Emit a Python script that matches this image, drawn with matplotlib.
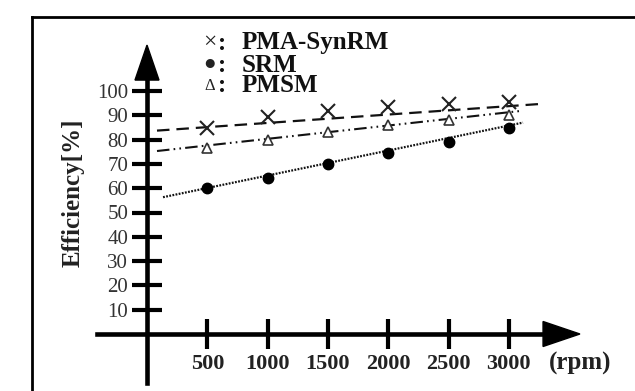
import numpy as np
from matplotlib import pyplot as plt
from matplotlib.lines import Line2D
from matplotlib.patches import Polygon

plt.rcParams.update({'font.family': ['Liberation Serif', 'DejaVu Serif'],
                     'lines.scale_dashes': False})

"""
Data read off the picture
"""
rpm = [500, 1000, 1500, 2000, 2500, 3000]
pma_synrm = [84.6, 89.4, 91.9, 93.5, 94.6, 95.6]
srm = [60.0, 64.1, 70.0, 74.4, 79.1, 84.6]
pmsm = [76.4, 79.8, 83.3, 86.0, 88.1, 90.1]

# trend lines (end points)
pma_fit_rpm = [83, 3242]
pma_fit = [83.7, 94.6]
pmsm_fit_rpm = [83, 3118]
pmsm_fit = [75.3, 91.9]
srm_fit_rpm = [133, 3118]
srm_fit = [56.3, 87.0]

y_ticks = [10, 20, 30, 40, 50, 60, 70, 80, 90, 100]
x_ticks = rpm
x_labels = [str(v) for v in rpm]

"""
Plotting
"""
W, H = 635, 391
fig = plt.figure(figsize=(W / 100, H / 100), dpi=100)
ax = fig.add_axes([0, 0, 1, 1])

# pixel -> data scale (origin at pixel (147, 334))
x0, y0 = 147, 334
sx = 60.3 / 500   # px per rpm
sy = 2.43         # px per %
ax.set_xlim(-x0 / sx, (W - x0) / sx)
ax.set_ylim((y0 - H) / sy, y0 / sy)

# trend lines
ax.plot(pma_fit_rpm, pma_fit, color='#111', lw=1.6, dashes=(9, 5))
ax.plot(pmsm_fit_rpm, pmsm_fit, color='#111', lw=1.5,
        dashes=(9, 3, 1.2, 3, 1.2, 3))
ax.plot(srm_fit_rpm, srm_fit, color='#111', lw=1.6, dashes=(1.3, 1.0))

# markers
ax.plot(rpm, pma_synrm, 'x', color='#222', ms=9.5, mew=1.5)
ax.plot(rpm, srm, 'o', color='k', ms=7.5)
ax.plot(rpm, pmsm, '^', mfc='white', mec='#333', ms=7.5, mew=1.2)

# axes through the origin
for s in ['top', 'right']:
    ax.spines[s].set_visible(False)
ax.spines['left'].set_position(('data', 0))
ax.spines['bottom'].set_position(('data', 0))
ax.spines['left'].set_bounds(-20.2, 104.5)
ax.spines['bottom'].set_bounds(-415, 3284)
ax.spines['left'].set_linewidth(3.3)
ax.spines['bottom'].set_linewidth(3.3)

ax.set_yticks(y_ticks)
ax.set_yticklabels([str(v) for v in y_ticks], fontsize=15, color='#333')
ax.set_xticks(x_ticks)
ax.set_xticklabels(x_labels, fontsize=16, fontweight='bold', color='#222')
ax.tick_params(axis='y', direction='inout', length=21, width=3, pad=3)
ax.tick_params(axis='x', direction='inout', length=21.5, width=3, pad=4)

# arrow heads
ya = Polygon([[-12 / sx, 104.5], [12 / sx, 104.5], [0, 118.9]],
             closed=True, color='k', clip_on=False)
xa = Polygon([[3284, 12.5 / sy], [3284, -12.5 / sy], [3590, 0]],
             closed=True, color='k', clip_on=False)
ax.add_patch(ya)
ax.add_patch(xa)

ax.text(3590, -12.1, '(rpm)', fontsize=18, fontweight='bold', color='#222',
        ha='center', va='center')
ax.text(-74 / sx, 58, 'Efficiency[%]', fontsize=18, fontweight='bold',
        color='#222', rotation=90, ha='center', va='center')

# legend written as text
legend = [('×', 17, 'PMA-SynRM', 43), ('●', 15, 'SRM', 65), ('Δ', 12, 'PMSM', 86)]
for sym, fs, name, py in legend:
    fig.text(210 / W, 1 - py / H, sym, fontsize=fs,
             ha='center', va='center', color='#222')
    fig.text(218 / W, 1 - py / H, ':', fontsize=18, fontweight='bold',
             ha='left', va='center', color='#111')
    fig.text(242 / W, 1 - py / H, name, fontsize=18, fontweight='bold',
             ha='left', va='center', color='#111')

# frame around the figure (only left and top visible)
fig.add_artist(Line2D([32 / W, 32 / W], [0, 1 - 17 / H], color='k', lw=2))
fig.add_artist(Line2D([32 / W, 1], [1 - 17 / H, 1 - 17 / H], color='k', lw=2))

fig.savefig('out.png', dpi=100)
